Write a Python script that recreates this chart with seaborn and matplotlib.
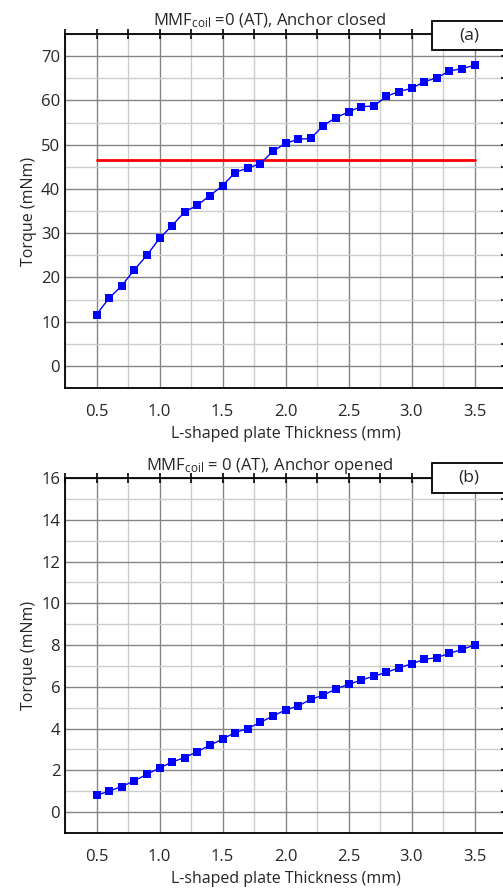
import matplotlib
matplotlib.use("Agg")
import matplotlib.pyplot as plt
import matplotlib.patches as mpatches
from matplotlib.ticker import MultipleLocator
import pandas as pd
import seaborn as sns

thickness = [0.5, 0.6, 0.7, 0.8, 0.9, 1.0, 1.1, 1.2, 1.3, 1.4, 1.5, 1.6, 1.7, 1.8, 1.9, 2.0,
             2.1, 2.2, 2.3, 2.4, 2.5, 2.6, 2.7, 2.8, 2.9, 3.0, 3.1, 3.2, 3.3, 3.4, 3.5]
torque_closed = [11.6, 15.3, 18.1, 21.7, 25.0, 28.8, 31.7, 34.8, 36.3, 38.5, 40.7, 43.7, 44.7, 45.7,
                 48.5, 50.3, 51.2, 51.4, 54.3, 56.1, 57.4, 58.6, 58.7, 60.9, 62.0, 62.7, 64.2, 65.1,
                 66.6, 67.2, 67.9]
torque_opened = [0.80, 1.01, 1.22, 1.50, 1.81, 2.11, 2.40, 2.61, 2.90, 3.20, 3.50, 3.81, 4.00, 4.30,
                 4.60, 4.89, 5.08, 5.40, 5.60, 5.90, 6.12, 6.32, 6.51, 6.69, 6.91, 7.10, 7.31, 7.40,
                 7.60, 7.79, 8.00]
ref_level = 46.6  # red reference line in (a)

df = pd.DataFrame({'thickness': thickness, 'closed': torque_closed, 'opened': torque_opened})

sns.set_style("whitegrid")
plt.rcParams['font.family'] = ['Open Sans', 'DejaVu Sans']
plt.rcParams['mathtext.default'] = 'regular'

W, H = 503, 893
fig = plt.figure(figsize=(W / 100, H / 100), dpi=100)
ax1 = fig.add_axes([65 / W, 1 - 388 / H, 441 / W, 354 / H])
ax2 = fig.add_axes([65 / W, 1 - 833 / H, 441 / W, 355 / H])

# (axes, column, ylim, major, minor, title, tag, tag box top/bottom in px)
panels = [
    (ax1, 'closed', (-5, 75), 10, 5, 'MMF$_{coil}$ =0 (AT), Anchor closed', '(a)', (21, 50)),
    (ax2, 'opened', (-1, 16), 2, 1, 'MMF$_{coil}$ = 0 (AT), Anchor opened', '(b)', (463, 493)),
]

for ax, col, ylim, ymaj, ymin, title, tag, (bt, bb) in panels:
    ax.set_facecolor('white')
    sns.lineplot(x='thickness', y=col, data=df, ax=ax, color='#0000ff', marker='s',
                 markersize=5.5, markeredgewidth=0, linewidth=1)
    ax.set_xlim(0.25, 3.75)
    ax.set_ylim(*ylim)
    ax.xaxis.set_major_locator(MultipleLocator(0.5))
    ax.xaxis.set_minor_locator(MultipleLocator(0.25))
    ax.yaxis.set_major_locator(MultipleLocator(ymaj))
    ax.yaxis.set_minor_locator(MultipleLocator(ymin))
    ax.set_xticks([0.5, 1.0, 1.5, 2.0, 2.5, 3.0, 3.5])
    ax.set_xticklabels(['0.5', '1.0', '1.5', '2.0', '2.5', '3.0', '3.5'])
    ax.grid(which='major', color='#858585', linewidth=1.0)
    ax.grid(which='minor', color='#cccccc', linewidth=1.0)
    ax.set_axisbelow(True)
    for s in ['left', 'bottom', 'top', 'right']:
        ax.spines[s].set_color('black')
        ax.spines[s].set_linewidth(1.3)
    ax.tick_params(axis='both', which='both', direction='inout', length=7, width=1.2,
                   color='black', labelsize=12, top=True, right=True)
    ax.tick_params(axis='x', which='major', pad=8)
    ax.tick_params(axis='y', which='major', pad=0)
    ax.set_xlabel('L-shaped plate Thickness (mm)', fontsize=11.5, labelpad=4)
    ax.set_ylabel('Torque (mNm)', fontsize=11.5, labelpad=3)
    ax.set_title(title, fontsize=12, pad=6, x=0.465)
    fig.patches.append(mpatches.Rectangle((432 / W, 1 - bb / H), 80 / W, (bb - bt) / H,
                                          transform=fig.transFigure, facecolor='white',
                                          edgecolor='black', linewidth=1.3, zorder=5))
    fig.text(469 / W, 1 - (bt + bb) / 2 / H, tag, fontsize=12.5, ha='center', va='center',
             zorder=6)

ax1.plot([0.5, 3.5], [ref_level, ref_level], color='#ff0000', linewidth=2, zorder=1.5)

fig.savefig('out.png', dpi=100)
